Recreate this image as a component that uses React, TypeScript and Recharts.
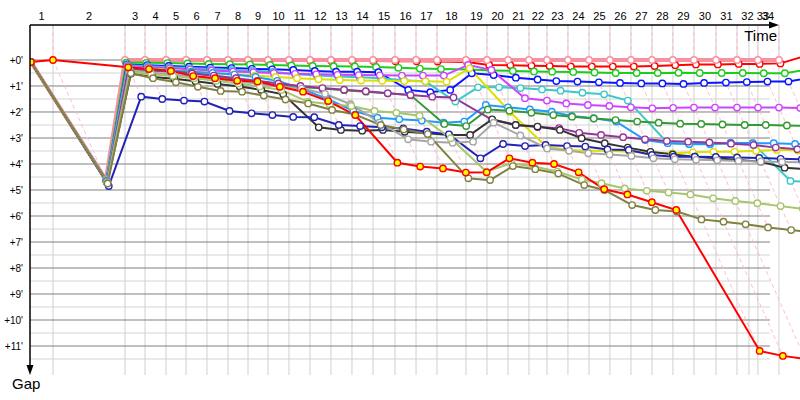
import { LineChart, Line, XAxis, YAxis, ReferenceLine } from "recharts";

// leader crossing time (minutes) for lap 0..34
const leaderTimes = [
  0, 2.0, 8.26, 10.0, 11.83, 13.57, 15.39, 17.22, 18.96, 20.7, 22.52, 24.35,
  26.17, 28.0, 29.83, 31.74, 33.57, 35.39, 37.91, 39.74, 41.57, 43.39, 44.96,
  46.78, 48.61, 50.43, 52.26, 54.09, 55.91, 57.74, 59.65, 61.48, 63.3, 65.13,
  68.8,
];
const extraGridTimes = [62.52];
const lapLabels = Array.from({ length: 34 }, (_, i) => i + 1);
const lastLabelTimes = [63.74, 64.17];
const gapTicks = [0, 1, 2, 3, 4, 5, 6, 7, 8, 9, 10, 11];
const minorGaps = [0.5, 1.5, 2.5, 3.5, 4.5, 5.5, 6.5, 7.5, 8.5, 9.5, 10.5, 11.5];

const X_MAX = 66.96;
const GRID_END = 64.35;
const Y_MIN = -1.346;
const Y_MAX = 12.115;

// gaps to the leader (minutes), lap 0..34
const pink = [0.08, 4.6, 0, 0, 0, 0, 0, 0, 0, 0, 0, 0, 0, 0, 0, 0, 0, 0, 0, 0, 0, 0, 0, 0, 0, 0, 0, 0, 0, 0, 0, 0, 0, 0, null];
const red = [0.08, 4.62, 0.03, 0.03, 0.03, 0.03, 0.03, 0.03, 0.03, 0.03, 0.03, 0.03, 0.04, 0.04, 0.04, 0.05, 0.05, 0.06, 0.08, 0.19, 0.2, 0.22, 0.23, 0.25, 0.25, 0.25, 0.25, 0.23, 0.2, 0.17, 0.17, 0.15, 0.15, 0.13, -0.3];
const green = [0.08, 4.63, 0.1, 0.11, 0.12, 0.13, 0.15, 0.16, 0.17, 0.19, 0.21, 0.23, 0.24, 0.25, 0.27, 0.3, 0.33, 0.35, 0.37, 0.4, 0.42, 0.44, 0.45, 0.46, 0.48, 0.5, 0.5, 0.5, 0.49, 0.5, 0.5, 0.5, 0.51, 0.51, 0.25];
const blue = [0.08, 4.65, 0.17, 0.2, 0.23, 0.26, 0.29, 0.31, 0.34, 0.36, 0.38, 0.42, 0.45, 0.45, 0.47, 1.15, 1.24, 1.15, 0.51, 0.58, 0.68, 0.75, 0.81, 0.83, 0.86, 0.88, 0.9, 0.9, 0.92, 0.88, 0.87, 0.85, 0.83, 0.83, 0.55];
const cyan = [0.08, 4.64, 0.2, 0.24, 0.28, 0.31, 0.35, 0.38, 0.41, 0.45, 0.55, 0.6, 0.63, 0.66, 0.7, 0.78, 0.83, 1.6, 1.05, 1.05, 1.08, 1.13, 1.18, 1.26, 1.32, 1.56, 3.18, 3.24, 3.24, 3.2, 3.2, 4.65, 4.7, null, null];
const violet = [0.08, 4.66, 0.24, 0.28, 0.32, 0.36, 0.4, 0.44, 0.47, 0.5, 0.53, 0.55, 0.57, 0.58, 0.59, 0.6, 0.6, 0.6, 0.19, 0.38, 1.47, 1.56, 1.67, 1.73, 1.77, 1.82, 1.86, 1.84, 1.83, 1.83, 1.83, 1.83, 1.83, 1.85, null];
const yellow = [0.08, 4.68, 0.28, 0.33, 0.38, 0.44, 0.5, 0.55, 0.6, 0.65, 0.7, 0.74, 0.77, 0.79, 0.8, 0.81, 0.82, 0.84, 0.32, 2.0, 3.33, 3.46, 3.49, 3.49, 3.53, 3.56, 3.59, 3.55, 3.53, 3.53, 3.49, 3.46, 3.48, null, null];
const lightBlue = [0.08, 4.66, 0.3, 0.35, 0.4, 0.45, 0.5, 0.56, 0.65, 0.8, 1.1, 1.5, 1.95, 2.22, 2.28, 2.33, 2.41, 2.37, 1.73, 1.82, 1.9, 1.99, 2.15, 2.24, 2.37, 3.08, 3.2, 3.23, 3.23, 3.18, 3.2, 3.2, 3.23, 3.25, null];
const darkGreen = [0.08, 4.7, 0.35, 0.4, 0.45, 0.5, 0.62, 0.75, 0.88, 0.98, 1.04, 1.1, 1.16, 1.22, 1.28, 1.35, 2.46, 2.54, 1.9, 1.95, 2.03, 2.12, 2.18, 2.25, 2.31, 2.37, 2.41, 2.45, 2.46, 2.48, 2.5, 2.5, 2.52, 2.53, null];
const purple = [0.08, 4.7, 0.32, 0.38, 0.44, 0.52, 0.6, 0.7, 0.8, 0.9, 1.0, 1.08, 1.14, 1.2, 1.28, 1.35, 1.41, 1.44, 2.31, 2.5, 2.58, 2.62, 2.8, 2.88, 2.97, 3.05, 3.12, 3.14, 3.17, 3.22, 3.27, 3.37, 3.43, 3.48, null];
const black = [0.08, 4.72, 0.52, 0.65, 0.72, 0.82, 0.92, 1.02, 1.15, 1.32, 2.59, 2.69, 2.72, 2.69, 2.76, 2.82, 2.88, 2.88, 2.28, 2.5, 2.56, 2.69, 3.01, 3.2, 3.37, 3.53, 3.63, 3.72, 3.78, 3.85, 3.91, 4.14, 4.2, null, null];
const navy = [0.08, 4.85, 1.41, 1.5, 1.56, 1.6, 1.96, 2.05, 2.12, 2.19, 2.2, 2.5, 2.54, 2.59, 2.63, 2.76, 2.86, 3.78, 3.23, 3.31, 3.27, 3.31, 3.33, 3.44, 3.46, 3.65, 3.72, 3.72, 3.73, 3.75, 3.77, 3.8, 3.82, null, null];
const gray = [0.08, 4.7, 0.4, 0.48, 0.56, 0.64, 0.72, 0.82, 0.92, 1.02, 1.1, 1.3, 1.7, 2.4, 3.05, 3.14, 3.18, 3.14, 2.41, 2.9, 3.4, 3.49, 3.59, 3.63, 3.69, 3.78, 3.82, 3.84, 3.86, 3.88, 3.9, 3.92, 3.94, null, null];
const olive = [0.08, 4.75, 0.51, 0.7, 0.86, 1.03, 1.19, 1.22, 1.37, 1.52, 1.67, 1.92, 2.1, 2.5, 2.67, 2.85, 4.55, 4.62, 4.08, 4.2, 4.37, 4.81, 5.0, 5.58, 5.77, 5.83, 6.13, 6.22, 6.32, 6.44, 6.54, 6.62, null, null, null];
const lightGreen = [0.08, 4.73, 0.45, 0.55, 0.62, 0.7, 0.8, 0.9, 1.02, 1.15, 1.6, 1.7, 1.77, 1.96, 2.03, 2.14, 3.01, 4.29, 3.97, 4.1, 4.29, 4.6, 4.74, 4.94, 5.03, 5.1, 5.17, 5.32, 5.42, 5.51, 5.62, 5.72, null, null, null];
const redYellow = [0.08, 0, 0.28, 0.35, 0.42, 0.62, 0.7, 0.8, 0.83, 1.03, 1.22, 1.58, 2.12, 3.95, 4.1, 4.17, 4.33, 4.32, 3.78, 3.95, 4.0, 4.32, 4.97, 5.17, 5.47, 5.77, 11.19, 11.38, 11.5, null, null, null, null, null, null];

type Driver = { name: string; color: string; fill: string; width: number; gaps: (number | null)[] };

// draw order: first one at the bottom
const drivers: Driver[] = [
  { name: "red", color: "#ff0000", fill: "#fff", width: 2, gaps: red },
  { name: "pink", color: "#f7909f", fill: "#fff", width: 4, gaps: pink },
  { name: "green", color: "#1ecc1e", fill: "#fff", width: 2, gaps: green },
  { name: "blue", color: "#0a14ff", fill: "#fff", width: 2, gaps: blue },
  { name: "cyan", color: "#3cc8c8", fill: "#fff", width: 2, gaps: cyan },
  { name: "violet", color: "#cc44ff", fill: "#fff", width: 2, gaps: violet },
  { name: "yellow", color: "#dede00", fill: "#fff", width: 2, gaps: yellow },
  { name: "lightBlue", color: "#1e9bff", fill: "#fff", width: 2, gaps: lightBlue },
  { name: "darkGreen", color: "#339933", fill: "#fff", width: 2, gaps: darkGreen },
  { name: "purple", color: "#993399", fill: "#fff", width: 2, gaps: purple },
  { name: "black", color: "#333333", fill: "#fff", width: 2, gaps: black },
  { name: "navy", color: "#2222b4", fill: "#fff", width: 2, gaps: navy },
  { name: "gray", color: "#a6a6a6", fill: "#fff", width: 2, gaps: gray },
  { name: "lightGreen", color: "#a8c46c", fill: "#fff", width: 2, gaps: lightGreen },
  { name: "olive", color: "#808040", fill: "#fff", width: 2, gaps: olive },
  { name: "redYellow", color: "#ff0000", fill: "#ffff00", width: 2, gaps: redYellow },
];

type Pt = { x: number; y: number };

const toPoints = (gaps: (number | null)[]): Pt[] =>
  gaps.flatMap((g, lap) => (g == null ? [] : [{ x: leaderTimes[lap] + g, y: g }]));

// dashed lines joining every car's crossing of the same lap
const lapLines: Pt[][] = lapLabels.map((lap) => {
  const pts = drivers
    .flatMap((d) => (d.gaps[lap] == null ? [] : [d.gaps[lap] as number]))
    .sort((a, b) => a - b)
    .map((g) => ({ x: leaderTimes[lap] + g, y: g }));
  return [{ x: leaderTimes[lap], y: Y_MIN }, ...pts];
});

const lapLabelTimes = [
  ...lapLabels.slice(0, 32).map((n) => (leaderTimes[n - 1] + leaderTimes[n]) / 2),
  ...lastLabelTimes,
];

const font = "'Liberation Sans', Arial, sans-serif";

const LapTick = (props: any) => {
  const { x, y, index } = props;
  return (
    <text x={x} y={y - 3} textAnchor="middle" fontSize={11} fontFamily={font} fill="#000">
      {lapLabels[index]}
    </text>
  );
};

export default function App() {
  return (
    <div style={{ position: "absolute", left: 0, top: 0, width: 800, height: 400, background: "#fff" }}>
      <LineChart width={800} height={400} margin={{ top: 0, right: 0, bottom: 25, left: 0 }}>
        <XAxis
          type="number"
          dataKey="x"
          orientation="top"
          domain={[0, X_MAX]}
          allowDataOverflow
          ticks={lapLabelTimes}
          interval={0}
          tick={<LapTick />}
          tickLine={false}
          axisLine={false}
          tickSize={0}
          height={25}
        />
        <YAxis
          type="number"
          dataKey="y"
          reversed
          domain={[Y_MIN, Y_MAX]}
          allowDataOverflow
          ticks={gapTicks}
          interval={0}
          tickFormatter={(v: number) => `+${v}'`}
          tick={{ fontSize: 10, fill: "#000", fontFamily: font }}
          tickLine={false}
          axisLine={false}
          tickSize={0}
          tickMargin={7}
          width={30}
        />
        {minorGaps.map((g) => (
          <ReferenceLine
            key={`m${g}`}
            segment={[{ x: 0, y: g }, { x: GRID_END, y: g }]}
            stroke="#d4d4d4"
            strokeWidth={1}
          />
        ))}
        {[...leaderTimes.slice(1, 34), ...extraGridTimes].map((t) => (
          <ReferenceLine key={`v${t}`} x={t} stroke="#d0d0d0" strokeWidth={1} />
        ))}
        {gapTicks.map((g) => (
          <ReferenceLine
            key={`g${g}`}
            segment={[{ x: 0, y: g }, { x: GRID_END, y: g }]}
            stroke="#808080"
            strokeWidth={1}
          />
        ))}
        {lapLines.map((pts, i) => (
          <Line
            key={`lap${i}`}
            data={pts}
            dataKey="y"
            stroke="#ffbcc8"
            strokeWidth={1}
            strokeDasharray="4 3"
            dot={false}
            activeDot={false}
            isAnimationActive={false}
          />
        ))}
        {drivers.map((d) => (
          <Line
            key={d.name}
            data={toPoints(d.gaps)}
            dataKey="y"
            stroke={d.color}
            strokeWidth={d.width}
            dot={{ r: 3.2, fill: d.fill, stroke: d.color, strokeWidth: 1.4 }}
            activeDot={false}
            isAnimationActive={false}
          />
        ))}
      </LineChart>
      <svg width={800} height={400} style={{ position: "absolute", left: 0, top: 0, pointerEvents: "none" }}>
        <line x1={30} y1={25} x2={771} y2={25} stroke="#000" strokeWidth={1.5} />
        <polygon points="769,21.5 779,25 769,28.5" fill="#000" />
        <line x1={30} y1={25} x2={30} y2={367} stroke="#000" strokeWidth={1.5} />
        <polygon points="26.5,365 30,375 33.5,365" fill="#000" />
        <text x={777} y={41} textAnchor="end" fontSize={15} fontFamily={font} fill="#000">
          Time
        </text>
        <text x={12} y={389} fontSize={15} fontFamily={font} fill="#000">
          Gap
        </text>
      </svg>
    </div>
  );
}
